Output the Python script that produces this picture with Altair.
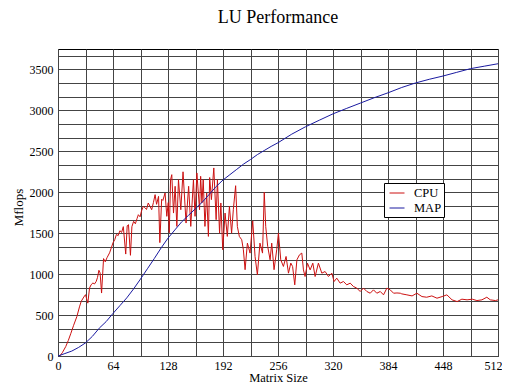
import altair as alt
import pandas as pd

# ---- data ----
cpu_x = [2, 5, 9, 12, 15, 18, 22, 25, 27, 30, 32, 34.7, 36.7, 38.5, 40.6, 42.5, 44.5, 46, 47.6, 49,
         50.7, 53, 55, 57, 60, 62, 64, 66, 68, 70, 72, 74, 76, 78.8, 80.5, 82, 84.3, 86, 88, 90,
         92, 93.5, 95.5, 97.2, 99.3, 101, 103, 105, 107, 109, 111, 113, 114.7, 117, 118.5, 120.6, 122, 124.6, 126.6, 128.3,
         129.5, 131, 132.4, 134.4, 136.3, 138.3, 140.2, 142.9, 145.5, 149, 152, 154.5, 157.6, 159.5, 161.6, 164.7, 166, 167.5, 169, 171,
         173, 175, 176.5, 178.5, 181.3, 184, 185.5, 188, 189.5, 191.7, 194.4, 197, 199.5, 202, 204, 206.7, 208.7, 211, 213.8, 215.7,
         217.7, 220.4, 223.5, 226.6, 229.3, 232, 235, 238, 240, 241.7, 244, 246.8, 248.7, 251.4, 254.5, 256.5, 259.2, 262.3, 265.4, 268.2,
         270.9, 273, 275.5, 278, 281, 283.7, 285.6, 287.5, 290.3, 293.4, 296.5, 299.2, 303, 307, 310.8, 314.7, 318.6, 321.3, 324.4, 328.3,
         332.2, 336, 340, 343.8, 347.7, 351.6, 355.5, 359.4, 363.3, 367.1, 371, 375, 378.8, 382.7, 386.6, 390.5, 394.4, 398.3,
         400, 406, 412, 417.6, 423.5, 429, 435, 441, 447, 452.5, 458.5, 464.4, 470, 476, 482, 487.5, 493.3, 499, 503, 509, 512]
cpu_y = [0, 40, 115, 190, 278, 370, 483, 600, 667, 720, 749, 646, 830, 870, 892, 880, 912, 960, 1047, 1015,
         769, 1190, 1150, 1200, 1260, 1320, 1383, 1420, 1485, 1470, 1530, 1510, 1580, 1245, 1590, 1604, 1230, 1580, 1645, 1615,
         1680, 1726, 1700, 1772, 1828, 1813, 1790, 1869, 1830, 1787, 1874, 1971, 1853, 1950, 1385, 1915, 1900, 1991, 1706, 1874,
         1506, 2154, 2215, 1746, 2073, 1583, 2154, 1787, 2250, 1624, 2073, 1583, 2154, 1706, 2236, 1787, 2195, 1869, 2154, 1583,
         1991, 1461, 2180, 1910, 2297, 1665, 2154, 1501, 1869, 1298, 1746, 1461, 1828, 1501, 1787, 2080, 1583, 1461, 1420, 1298,
         1054, 1379, 1257, 1650, 1216, 992, 1379, 1257, 2000, 1583, 1338, 1175, 1379, 1054, 1298, 1501, 1175, 1094, 1216, 1012,
         1135, 1093, 869, 1175, 1236, 1257, 1052, 971, 1134, 1052, 1134, 971, 1134, 1012, 1032, 971, 1012, 910, 951, 890,
         910, 869, 890, 849, 829, 788, 829, 788, 767, 808, 767, 788, 747, 829, 808, 767, 770, 767,
         759, 747, 734, 767, 726, 718, 734, 706, 726, 747, 686, 665, 694, 686, 694, 677, 686, 718, 686, 677, 686]

map_x = [0, 8, 16, 24, 32, 40, 48, 56, 64, 72, 80, 88, 96, 104, 112, 120, 128, 136, 144, 152, 160, 168, 176, 184,
         192, 200, 208, 216, 224, 232, 240, 248, 256, 272, 288, 304, 320, 336, 352, 368, 384, 400, 416, 432, 448, 464, 480, 496, 512]
map_y = [0, 30, 60, 105, 160, 240, 340, 420, 520, 615, 710, 820, 940, 1065, 1190, 1320, 1440, 1540, 1640, 1720, 1800, 1880, 1975, 2070,
         2150, 2215, 2280, 2345, 2400, 2460, 2510, 2560, 2605, 2710, 2800, 2880, 2958, 3025, 3090, 3155, 3215, 3280, 3335, 3380, 3420, 3465, 3510, 3540, 3570]

series_names = ["CPU", "MAP"]
series_colors = ["#cc1111", "#1a1aa0"]

x_ticks = list(range(0, 513, 32))
y_ticks = [i * 500 / 3 for i in range(23)]

df = pd.concat([
    pd.DataFrame({"x": cpu_x, "y": cpu_y, "series": "CPU"}),
    pd.DataFrame({"x": map_x, "y": map_y, "series": "MAP"}),
], ignore_index=True)

serif = "Liberation Serif"

chart = alt.Chart(df).mark_line(strokeWidth=1).encode(
    x=alt.X("x:Q",
            scale=alt.Scale(domain=[0, 512], nice=False, zero=False),
            axis=alt.Axis(values=x_ticks, format="d",
                          labelExpr="datum.value % 64 == 0 ? datum.label : ''",
                          labelOffset={"condition": {"test": "datum.value == 512", "value": -5}, "value": 0},
                          title="Matrix Size", grid=True, ticks=False, domain=False,
                          labelFont=serif, labelFontSize=12, labelColor="#000",
                          labelPadding=4, labelFlush=False,
                          titleFont=serif, titleFontSize=12.5, titleFontWeight="normal",
                          titleColor="#000", titleY=15, titleBaseline="top")),
    y=alt.Y("y:Q",
            scale=alt.Scale(domain=[0, 3750], nice=False, zero=True),
            axis=alt.Axis(values=y_ticks, format="d",
                          labelExpr="round(datum.value) % 500 == 0 ? datum.label : ''",
                          title="Mflops", grid=True, ticks=False, domain=False,
                          labelFont=serif, labelFontSize=12, labelColor="#000",
                          labelPadding=5, labelFlush=False,
                          titleFont=serif, titleFontSize=13, titleFontWeight="normal",
                          titleColor="#000", titleX=-40, titleY=158, titleAngle=-90,
                          titleAlign="center", titleBaseline="middle")),
    color=alt.Color("series:N",
                    scale=alt.Scale(domain=series_names, range=series_colors),
                    legend=alt.Legend(title=None, orient="none", legendX=326, legendY=134,
                                      symbolType="stroke", symbolSize=225, symbolStrokeWidth=1,
                                      symbolOffset=3,
                                      labelFont=serif, labelFontSize=12.5, labelColor="#000",
                                      labelOffset=9, rowPadding=0,
                                      strokeColor="#000", fillColor="#fff", padding=2)),
).properties(
    width=440, height=307,
    title=alt.Title("LU Performance", font=serif, fontSize=18, fontWeight="normal",
                    color="#000", anchor="middle", frame="group", offset=22,
                    baseline="bottom", dy=18),
    autosize="none",
    padding={"left": 50, "top": 41, "right": 4, "bottom": 26},
).configure_view(
    stroke="#000", strokeWidth=1
).configure_axis(
    gridColor="#444", gridWidth=1, gridOpacity=1
)

chart.save("out.html", embed_options={"renderer": "svg", "actions": False})
